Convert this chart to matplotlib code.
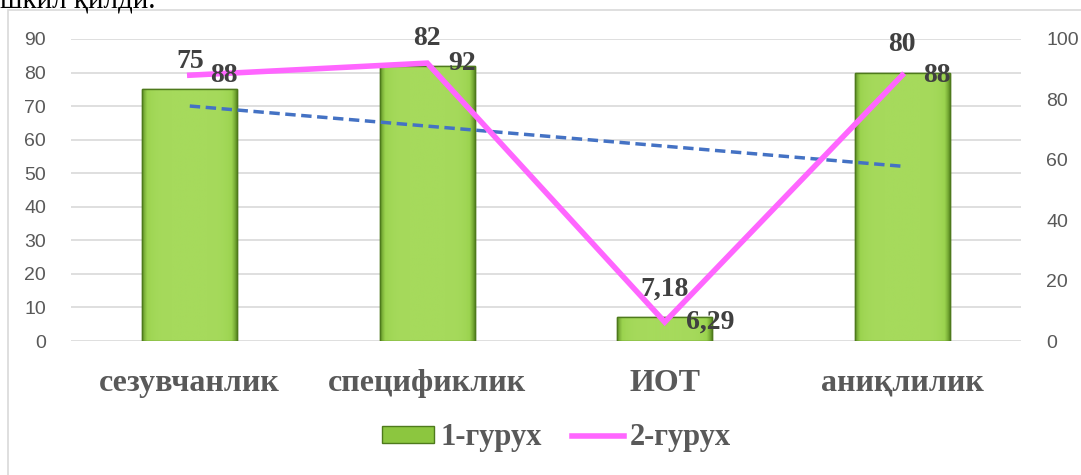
import numpy as np
import matplotlib.pyplot as plt
from matplotlib.patches import Rectangle, Patch
from matplotlib.lines import Line2D
from matplotlib.colors import LinearSegmentedColormap

# Data
categories = ['сезувчанлик', 'спецификлик', 'ИОТ', 'аниқлилик']
group1 = [75, 82, 7.18, 80]      # bars, left axis
group2 = [88, 92, 6.29, 88]      # line, right axis
left_ticks = list(range(0, 91, 10))
right_ticks = list(range(0, 101, 20))


def fmt(v):
    return ('%g' % v).replace('.', ',')


serif = ['Liberation Serif', 'DejaVu Serif']
sans = ['Liberation Sans', 'DejaVu Sans']
grey = '#595959'
dark = '#404040'

fig = plt.figure(figsize=(10.81, 4.75), dpi=100)
ax = fig.add_axes([0.0657, 0.282, 0.8788, 0.636])

# chart border
fig.patches.append(Rectangle((8 / 1081, -0.01), 1.1, 1 - 10 / 475 + 0.01,
                             transform=fig.transFigure, fill=False,
                             edgecolor='#D9D9D9', lw=1.2))

# caption line above the chart (cut by the page edge, as in the source)
fig.text(0.0, 0.985, 'шкил қилди.', fontsize=21, family=serif, color='black',
         va='baseline', ha='left')

x = np.arange(len(categories))
width = 0.4

# bars with a bevel-like gradient
bars = ax.bar(x, group1, width, color='#8CC63F', edgecolor='#4E7A1C',
              linewidth=1, zorder=2)
gx = np.linspace(-1, 1, 200)
grad = 1 - np.abs(gx) ** 6
img = np.tile(grad, (50, 1))
cmap = LinearSegmentedColormap.from_list('g', ['#5E8E24', '#9BD34F', '#A6DA5C'])
for b in bars:
    x0, y0 = b.get_x(), b.get_y()
    w, h = b.get_width(), b.get_height()
    im = ax.imshow(img, extent=[x0, x0 + w, y0, y0 + h], aspect='auto',
                   cmap=cmap, zorder=2.1, origin='lower')
    im.set_clip_path(b)
    ax.add_patch(Rectangle((x0, y0), w, h, fill=False, edgecolor='#4E7A1C',
                           lw=1, zorder=2.2))

# linear trend of group 1
coef = np.polyfit(x, group1, 1)
ax.plot(x, np.polyval(coef, x), color='#4472C4', lw=2.5, ls=(0, (3, 1.6)),
        zorder=3)

ax.set_xlim(-0.5, len(categories) - 0.5)
ax.set_ylim(0, 90)
ax.set_yticks(left_ticks)
ax.grid(axis='y', color='#D9D9D9', lw=1.2, zorder=0)
ax.set_axisbelow(True)
for s in ax.spines.values():
    s.set_visible(False)
ax.tick_params(axis='y', length=0, pad=18, labelsize=14, labelcolor=grey)
ax.tick_params(axis='x', length=0, pad=20)
for t in ax.get_yticklabels():
    t.set_family(sans)
ax.set_xticks(x)
ax.set_xticklabels(categories, fontsize=23, fontweight='bold', family=serif,
                   color=grey)

for xi, v in zip(x, group1):
    ax.annotate(fmt(v), (xi, v), xytext=(0, 11), textcoords='offset points',
                ha='center', va='bottom', fontsize=20, fontweight='bold',
                family=serif, color=dark, zorder=5)

ax2 = ax.twinx()
ax2.set_ylim(0, 100)
ax2.set_yticks(right_ticks)
for s in ax2.spines.values():
    s.set_visible(False)
ax2.tick_params(axis='y', length=0, pad=18, labelsize=14, labelcolor=grey)
for t in ax2.get_yticklabels():
    t.set_family(sans)
ax2.plot(x, group2, color='#FF66FF', lw=4, solid_joinstyle='miter', zorder=4)
for xi, v in zip(x, group2):
    ax2.annotate(fmt(v), (xi, v), xytext=(15, 0), textcoords='offset points',
                 ha='left', va='center', fontsize=20, fontweight='bold',
                 family=serif, color=dark, zorder=5)

handles = [Patch(facecolor='#8CC63F', edgecolor='#4E7A1C'),
           Line2D([0], [0], color='#FF66FF', lw=4)]
fig.legend(handles, ['1-гурух', '2-гурух'], loc='center',
           bbox_to_anchor=(0.515, 1 - 438 / 475), ncol=2, frameon=False,
           prop={'family': serif, 'weight': 'bold', 'size': 22},
           labelcolor=grey, handlelength=1.7, handleheight=0.5,
           columnspacing=1.0, handletextpad=0.2)

fig.savefig('out.png', dpi=100)
